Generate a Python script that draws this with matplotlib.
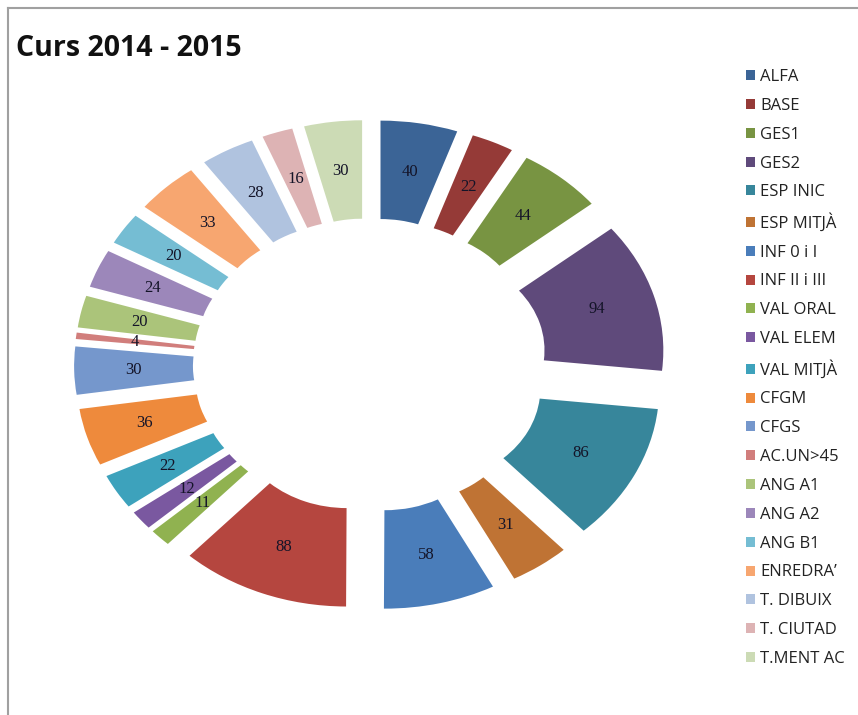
import numpy as np
import matplotlib
matplotlib.use('Agg')
import matplotlib.pyplot as plt
from matplotlib.lines import Line2D

# dades del curs
categories = ['ALFA', 'BASE', 'GES1', 'GES2', 'ESP INIC', 'ESP MITJÀ', 'INF 0 i I',
              'INF II i III', 'VAL ORAL', 'VAL ELEM', 'VAL MITJÀ', 'CFGM', 'CFGS',
              'AC.UN>45', 'ANG A1', 'ANG A2', 'ANG B1', 'ENREDRA’', 'T. DIBUIX',
              'T. CIUTAD', 'T.MENT AC']
values = [40, 22, 44, 94, 86, 31, 58, 88, 11, 12, 22, 36, 30, 4, 20, 24, 20, 33, 28, 16, 30]
colors = ['#3B6496', '#953A37', '#789442', '#5F4A7B', '#37869B', '#BF7334',
          '#4A7DBA', '#B5463F', '#90B250', '#7A58A0', '#3DA2BC', '#EE8A3C',
          '#7597CC', '#D17E7C', '#ABC47A', '#9C87BA', '#75BDD3', '#F7A670',
          '#B0C3DF', '#DDB3B4', '#CCDBB5']

W, H = 858, 715
fig = plt.figure(figsize=(W / 100, H / 100), dpi=100)

# marc del grafic (nomes esquerra i dalt)
fig.add_artist(Line2D([8 / W, 8 / W], [0, 1 - 8 / H], color='#A0A0A0', lw=1.5))
fig.add_artist(Line2D([8 / W, 1], [1 - 8 / H, 1 - 8 / H], color='#A0A0A0', lw=1.5))

fig.text(16 / W, 1 - 49 / H, 'Curs 2014 - 2015', fontsize=20.5, fontweight='bold',
         family='Open Sans', va='center', ha='left', color='#111111')

# eixos el·liptics (la imatge original esta aixafada verticalment)
rx, ry = 233, 193
cx, cy = 370, 365
lim = 1.35
ax = fig.add_axes([(cx - lim * rx) / W, (H - cy - lim * ry) / H,
                   2 * lim * rx / W, 2 * lim * ry / H])

width = 0.51
explode = [0.27] * len(values)
wedges, _ = ax.pie(values, colors=colors, startangle=90, counterclock=False,
                   explode=explode, radius=1, wedgeprops=dict(width=width, linewidth=0))
ax.set_aspect('auto')
ax.set_xlim(-lim, lim)
ax.set_ylim(-lim, lim)
ax.axis('off')

# etiquetes al mig de cada sector
for w, v in zip(wedges, values):
    ang = np.deg2rad((w.theta1 + w.theta2) / 2)
    rm = w.r - width / 2
    x = w.center[0] + rm * np.cos(ang)
    y = w.center[1] + rm * np.sin(ang)
    ax.text(x, y, str(v), ha='center', va='center', fontsize=12,
            family='Liberation Serif', color='#141428')

leg = fig.legend(wedges, categories, loc='upper left',
                 bbox_to_anchor=(731 / W, 1 - 54 / H), frameon=False,
                 prop={'family': 'Open Sans', 'size': 12}, handlelength=0.55,
                 handleheight=0.55, handletextpad=0.3, labelspacing=0.77,
                 labelcolor='#222222')

fig.savefig('out.png', dpi=100)
